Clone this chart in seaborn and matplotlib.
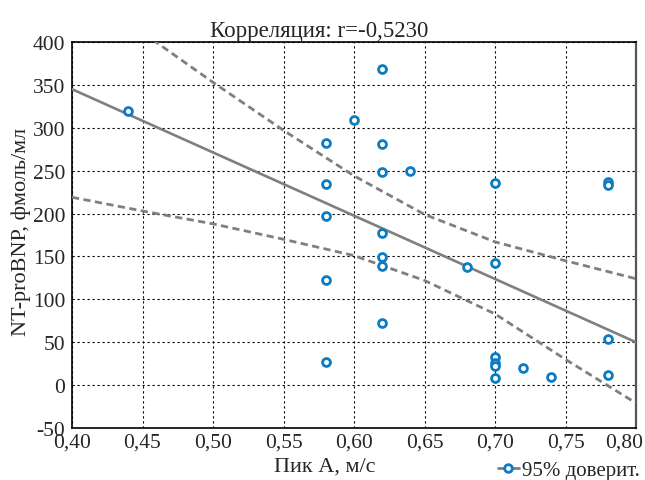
import numpy as np
import pandas as pd
import matplotlib
matplotlib.use("Agg")
import matplotlib.pyplot as plt
from matplotlib.lines import Line2D
from matplotlib.transforms import ScaledTranslation
import seaborn as sns

# data
peak_a = [0.44,
          0.58, 0.58, 0.58, 0.58, 0.58,
          0.60,
          0.62, 0.62, 0.62, 0.62, 0.62, 0.62, 0.62,
          0.64,
          0.68,
          0.70, 0.70, 0.70, 0.70, 0.70, 0.70,
          0.72,
          0.74,
          0.78, 0.78, 0.78, 0.78]
nt_probnp = [320,
             282, 235, 197, 123, 27,
             309,
             368, 281, 249, 177, 149, 139, 72,
             250,
             138,
             236, 142, 33, 26, 22, 8,
             20,
             10,
             237, 233, 54, 12]

# regression line and 95% confidence curves
fit_x = [0.40, 0.80]
fit_y = [345, 50]
band_x = [0.40, 0.45, 0.50, 0.55, 0.60, 0.65, 0.70, 0.75, 0.80]
band_upper = [470, 411, 353, 297, 244, 199, 167, 145, 124]
band_lower = [219, 203, 188, 170, 151, 122, 83, 30, -21]

x_ticks = [0.40, 0.45, 0.50, 0.55, 0.60, 0.65, 0.70, 0.75, 0.80]
y_ticks = [-50, 0, 50, 100, 150, 200, 250, 300, 350, 400]
title_text = "Корреляция: r=-0,5230"
x_label = "Пик А, м/с"
y_label = "NT-proBNP, фмоль/мл"
legend_text = "95% доверит. интервал"

sns.set_style("white")
plt.rcParams['font.family'] = ['Liberation Serif', 'DejaVu Serif']

df = pd.DataFrame({"x": peak_a, "y": nt_probnp})
fit_df = pd.DataFrame({"x": fit_x, "y": fit_y})
band_df = pd.DataFrame({"x": band_x, "upper": band_upper, "lower": band_lower})

fig = plt.figure(figsize=(6.45, 4.81), dpi=100)
ax = fig.add_axes([72 / 645, 1 - 429 / 481, (636 - 72) / 645, (429 - 43) / 481])

line_col = "#7f7f7f"
dash = (0, (2.6, 1.6))
sns.lineplot(data=fit_df, x="x", y="y", ax=ax, color=line_col, lw=1.9,
             zorder=3, legend=False)
sns.lineplot(data=band_df, x="x", y="upper", ax=ax, color=line_col, lw=2,
             zorder=3, legend=False).lines[-1].set_linestyle(dash)
sns.lineplot(data=band_df, x="x", y="lower", ax=ax, color=line_col, lw=2,
             zorder=3, legend=False).lines[-1].set_linestyle(dash)

sns.scatterplot(data=df, x="x", y="y", ax=ax, marker="o", s=32,
                facecolor="white", edgecolor="#0a7cc4", linewidth=2,
                zorder=4, legend=False)

ax.set_xlim(0.40, 0.80)
ax.set_ylim(-50, 400)
ax.set_xticks(x_ticks)
ax.set_yticks(y_ticks)
ax.set_xticklabels([f"{v:.2f}".replace(".", ",") for v in x_ticks])
ax.set_yticklabels([str(v) for v in y_ticks])
ax.tick_params(axis="both", length=0, labelsize=15.5)
ax.tick_params(axis="y", pad=5)
ax.tick_params(axis="x", pad=3)
ax.grid(True, color="black", ls=(0, (2, 2.5)), lw=0.8)
for sp in ax.spines.values():
    sp.set_color("black")
    sp.set_linewidth(1.2)
ax.spines["right"].set_color("#555555")
ax.spines["right"].set_linewidth(1.6)

# keep the last x tick label inside the figure, as in the reference
last = ax.get_xticklabels()[-1]
last.set_ha("right")
last.set_transform(last.get_transform()
                   + ScaledTranslation(7 / 100, 0, fig.dpi_scale_trans))

ax.set_title(title_text, fontsize=16.5, pad=4, x=(319 - 72) / 564)
ax.set_xlabel(x_label, fontsize=16)
ax.set_ylabel(y_label, fontsize=16)
ax.xaxis.set_label_coords((325 - 72) / 564, (429 - 458) / 386)
ax.yaxis.set_label_coords((31 - 72) / 564, (429 - 232) / 386)

handle = Line2D([0], [0], color=line_col, lw=2, marker="o", markersize=5.5,
                markerfacecolor="white", markeredgecolor="#0a7cc4",
                markeredgewidth=2)
fig.legend([handle], [legend_text], loc="center left",
           bbox_to_anchor=(498 / 645, 1 - 471 / 481), frameon=False,
           fontsize=15, handlelength=1.0, handletextpad=0.15,
           borderpad=0, borderaxespad=0)

fig.savefig("out.png", dpi=100)
